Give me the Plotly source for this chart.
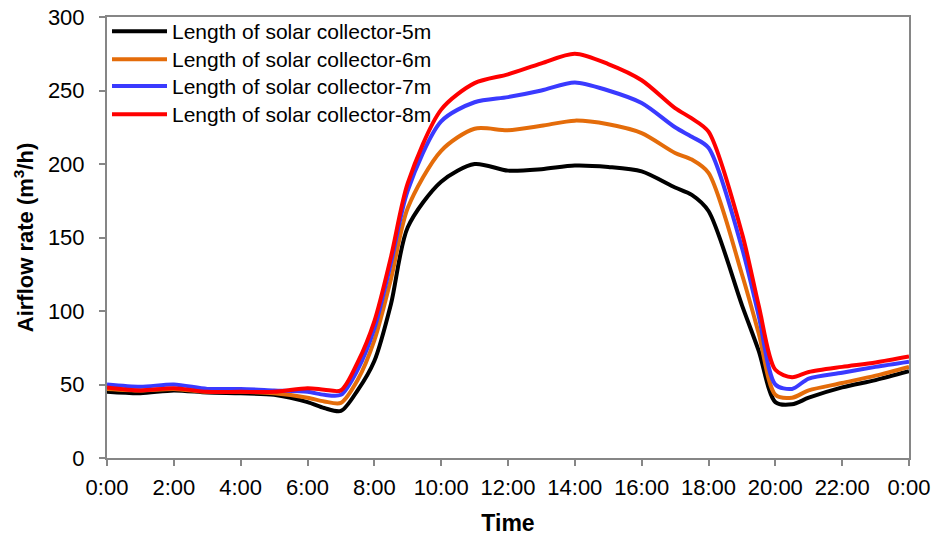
import plotly.graph_objects as go

hours = [0, 1, 2, 3, 4, 5, 6, 6.5, 7, 7.5, 8, 8.5, 9, 10, 11, 12, 13, 14, 15, 16,
         17, 17.5, 18, 19, 19.5, 20, 20.5, 21, 22, 23, 24]

len_5m = [45, 44, 46, 44.5, 44, 43, 38, 34, 32, 46, 66, 105, 157, 188, 200, 195.5,
          196.5, 199, 198, 195, 184, 179, 168, 104, 73, 38, 36.5, 41, 48, 53, 59]
len_6m = [47, 46, 47, 45, 45, 44, 41, 38.5, 37.5, 53, 80, 122, 170, 209, 224, 223,
          226, 229.5, 227, 221, 207.5, 203, 194, 125, 85, 43, 41, 46, 51, 56, 62]
len_7m = [50, 48.5, 50, 47, 47, 46, 45, 43, 43, 60, 88, 133, 182, 229, 242, 245.5,
          250, 255.5, 250, 241.5, 225, 218.5, 211, 143, 97, 50, 47, 54, 58, 62, 65.5]
len_8m = [48, 46, 47.5, 45, 45, 45, 47.5, 46.5, 46, 65, 93, 137, 187, 237, 255, 261,
          268.5, 275, 268, 257, 238, 231, 222, 153, 104, 60, 55, 58.5, 62, 65, 69]

series_names = ["Length of solar collector-5m", "Length of solar collector-6m",
                "Length of solar collector-7m", "Length of solar collector-8m"]
series_values = [len_5m, len_6m, len_7m, len_8m]
series_colors = ["#000000", "#E46C0A", "#3A3AFF", "#FF0000"]

x_tick_vals = [0, 2, 4, 6, 8, 10, 12, 14, 16, 18, 20, 22, 24]
x_tick_text = ["0:00", "2:00", "4:00", "6:00", "8:00", "10:00", "12:00", "14:00",
               "16:00", "18:00", "20:00", "22:00", "0:00"]
y_tick_vals = [0, 50, 100, 150, 200, 250, 300]

FONT = "Arial, 'Liberation Sans', sans-serif"
AXIS_GREY = "#868686"

legend_ids = ["legend", "legend2", "legend3", "legend4"]
legend_y = [1.0136, 0.950, 0.889, 0.8254]

fig = go.Figure()
for name, vals, col, lid in zip(series_names, series_values, series_colors, legend_ids):
    fig.add_trace(go.Scatter(
        x=hours, y=vals, name=name, mode="lines", legend=lid,
        line=dict(color=col, width=4, shape="spline", smoothing=0.8),
    ))

legend_common = dict(
    x=0.0, xanchor="left", yanchor="top",
    bgcolor="rgba(255,255,255,0)",
    font=dict(family=FONT, size=21, color="#000000"),
    itemwidth=55,
)
legend_layout = {lid: dict(y=ly, **legend_common) for lid, ly in zip(legend_ids, legend_y)}

fig.update_layout(
    width=936, height=542,
    margin=dict(l=107, r=27, t=17, b=84, autoexpand=False),
    paper_bgcolor="white", plot_bgcolor="white",
    font=dict(family=FONT, size=22, color="#000000"),
    showlegend=True,
    **legend_layout,
    xaxis=dict(
        range=[0, 24], tickmode="array", tickvals=x_tick_vals, ticktext=x_tick_text,
        showgrid=False, zeroline=False, showline=True, linecolor=AXIS_GREY, linewidth=2,
        mirror=True, ticks="outside", ticklen=6, tickcolor=AXIS_GREY, tickwidth=2,
        tickfont=dict(family=FONT, size=22), ticklabelstandoff=3, automargin=False,
        title=dict(text="<b>Time</b>", font=dict(family=FONT, size=23), standoff=15),
    ),
    yaxis=dict(
        range=[0, 300], tickmode="array", tickvals=y_tick_vals,
        showgrid=False, zeroline=False, showline=True, linecolor=AXIS_GREY, linewidth=2,
        mirror=True, ticks="outside", ticklen=6, tickcolor=AXIS_GREY, tickwidth=2,
        tickfont=dict(family=FONT, size=22), ticklabelstandoff=10, automargin=False,
        title=dict(text="<b>Airflow rate (m<sup>3</sup>/h)</b>", font=dict(family=FONT, size=22), standoff=8),
    ),
)

fig.write_html("out.html", config={"displayModeBar": False},
               post_script="document.body.style.margin='0';")
